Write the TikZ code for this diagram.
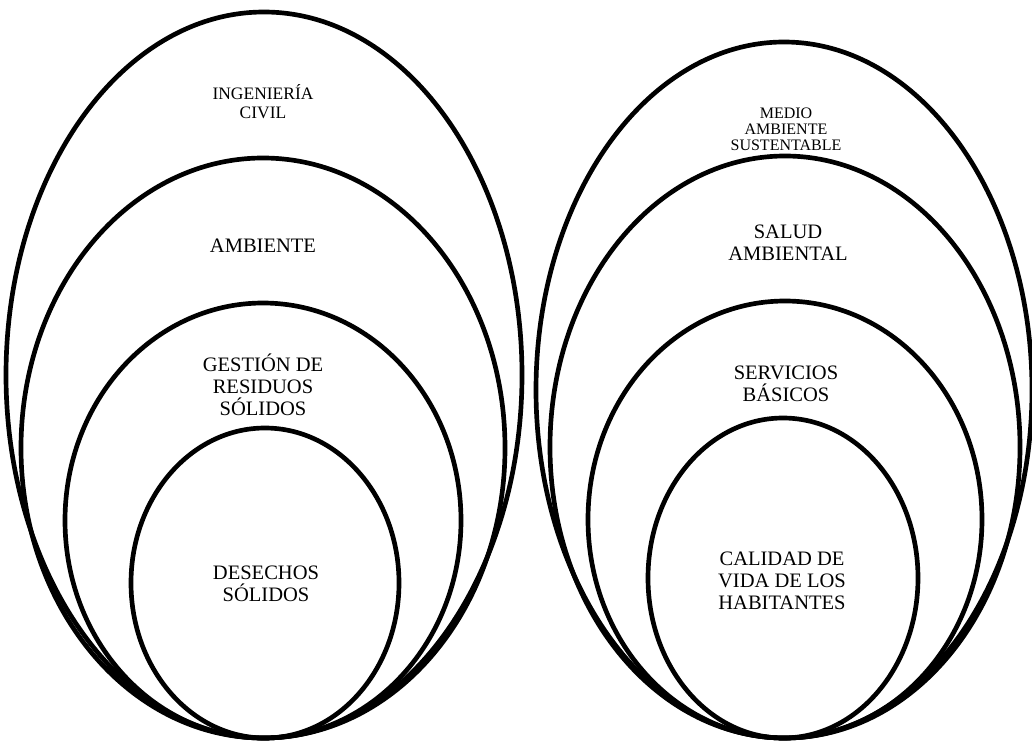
\documentclass[tikz,border=0pt]{standalone}
\usepackage{fontspec}
\setmainfont{Liberation Serif}
\usetikzlibrary{shapes.geometric}
\tikzset{ring/.style = {draw, ellipse, line width = 3.5pt, inner sep = 0pt},
  tag/.style = {align = center, inner sep = 0pt, font = \fontsize{15.4}{16.6}\selectfont}}

\begin{document}
\begin{tikzpicture}[x = 0.75pt, y = -0.75pt]
    \useasboundingbox (0,0) rectangle (1032,742);
    % left rings
    \node [ring, minimum width = 387pt, minimum height = 544.5pt] (civil) at (264,375) {};
    \node [ring, minimum width = 363pt, minimum height = 435pt] (ambiente) at (263,448) {};
    \node [ring, minimum width = 297pt, minimum height = 326.25pt] (gestion) at (263,520.5) {};
    \node [ring, minimum width = 201pt, minimum height = 232.5pt] (desechos) at (265,583) {};
    % right rings
    \node [ring, minimum width = 372pt, minimum height = 522pt] (medio) at (784,390) {};
    \node [ring, minimum width = 352.5pt, minimum height = 436.5pt] (salud) at (785,447) {};
    \node [ring, minimum width = 295.5pt, minimum height = 327.75pt] (servicios) at (785,519.5) {};
    \node [ring, minimum width = 202.5pt, minimum height = 240pt] (calidad) at (783,578) {};
    % labels
    \node [tag, font = \fontsize{13.1}{14.3}\selectfont] (civiltag) at (263,101.5) {INGENIERÍA\\CIVIL};
    \node [tag] (ambientetag) at (263,246) {AMBIENTE};
    \node [tag] (gestiontag) at (263,385) {GESTIÓN DE\\RESIDUOS\\SÓLIDOS};
    \node [tag] (desechostag) at (266,584) {DESECHOS\\SÓLIDOS};
    \node [tag, font = \fontsize{12}{12}\selectfont] (mediotag) at (786,129) {MEDIO\\AMBIENTE\\SUSTENTABLE};
    \node [tag] (saludtag) at (788,243) {SALUD\\AMBIENTAL};
    \node [tag] (serviciostag) at (786,384) {SERVICIOS\\BÁSICOS};
    \node [tag] (calidadtag) at (782,581) {CALIDAD DE\\VIDA DE LOS\\HABITANTES};
  \end{tikzpicture}
\end{document}
